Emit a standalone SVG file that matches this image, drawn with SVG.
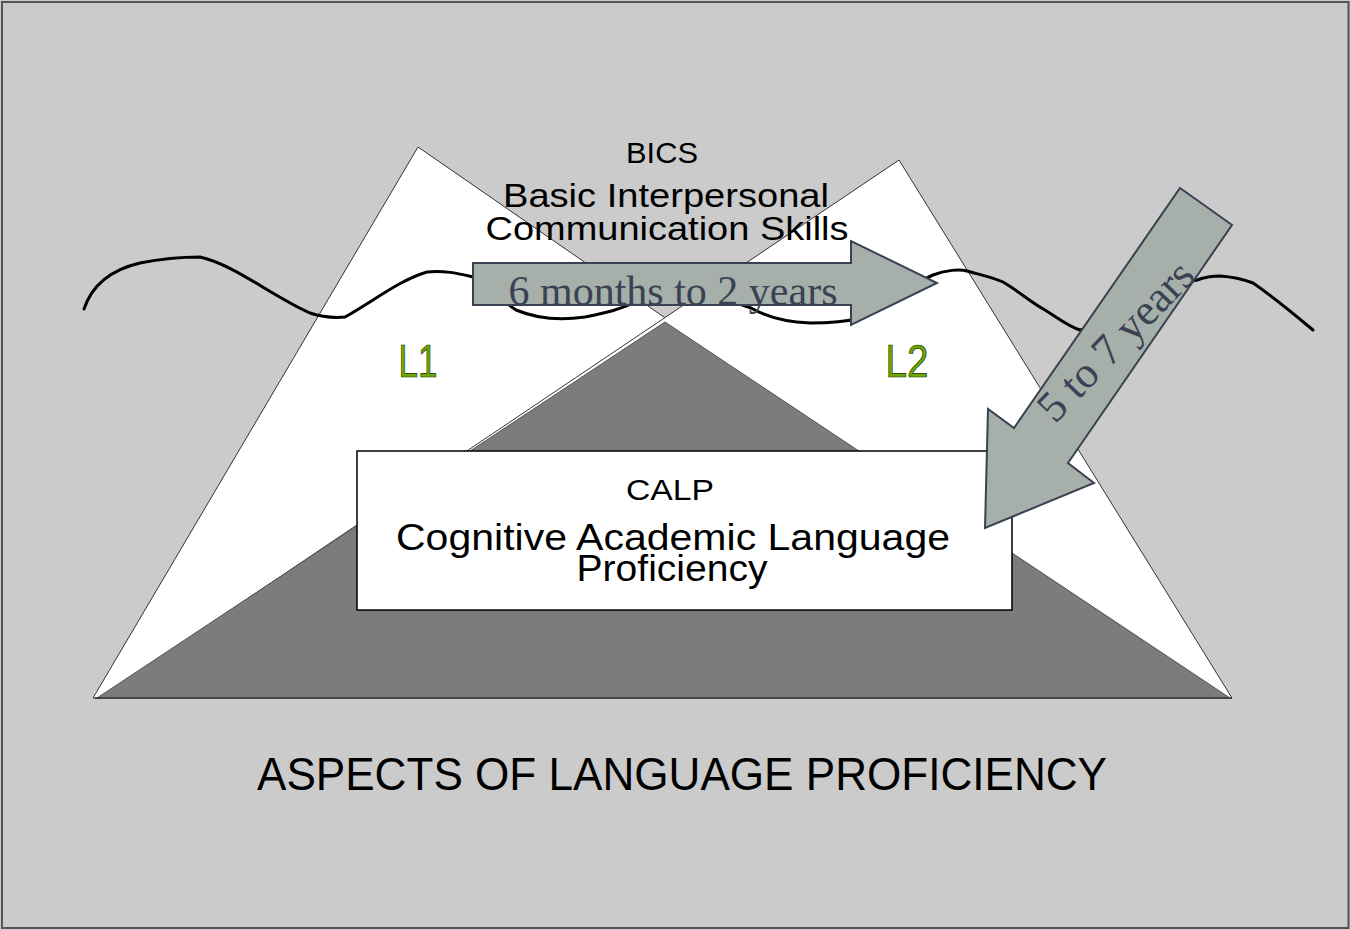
<svg xmlns="http://www.w3.org/2000/svg" width="1350" height="930" viewBox="0 0 1350 930">
<style>
.tri{fill:#ffffff;stroke:#333333;stroke-width:1}
.lbl{font-family:"Liberation Sans",Arial,sans-serif;fill:#000000;text-anchor:middle}
.lang{font-family:"Liberation Sans",Arial,sans-serif;font-size:46px;fill:#6aaa00;stroke:#1e2a00;stroke-width:0.7;text-anchor:middle}
.arrow{fill:#a6afa9;stroke:#3a4152;stroke-width:2;stroke-linejoin:miter}
.atxt{font-family:"Liberation Serif","Times New Roman",serif;fill:#3a4152;text-anchor:middle}
</style>
<rect x="0" y="0" width="1350" height="930" fill="#cbcbcb"/>
<rect x="2" y="2" width="1346.5" height="926" fill="none" stroke="#555555" stroke-width="2"/>

<g id="l1-triangle">
<polygon class="tri" points="418,147 93,698 1215,698"/>
</g>
<g id="l2-triangle">
<polygon class="tri" points="899,160 1232,698 100,698"/>
</g>
<g id="calp-triangle">
<polygon points="665,322 97,698 1230,698" fill="#7c7c7c" stroke="#555555" stroke-width="1"/>
<line x1="95" y1="698" x2="1232" y2="698" stroke="#444444" stroke-width="2"/>
</g>

<g id="waterline">
<path d="M84,309 C92,285 110,270 140,263 C165,258 185,257 200,257 C235,265 270,295 310,313 C325,318 335,318 345,317 C375,300 400,280 427,272 C445,270 460,274 473,277 C490,285 500,300 516,310 C540,320 565,320 585,317 C605,313 620,310 640,300 C660,285 700,290 751,308 C765,316 785,322 810,323 C830,323 845,322 860,318 C890,305 910,285 933,275 C945,270 960,269 967,271 C985,276 995,278 1003,282 C1020,292 1030,302 1045,310 C1058,318 1068,326 1080,330 C1120,320 1160,285 1197,280 C1205,277 1213,276 1220,276 C1235,277 1245,280 1253,283 C1275,298 1295,315 1313,330" fill="none" stroke="#000000" stroke-width="3" stroke-linecap="round" stroke-linejoin="round"/>
</g>

<g id="bics">
<text class="lbl" x="662" y="163" font-size="30" textLength="72" lengthAdjust="spacingAndGlyphs">BICS</text>
<text class="lbl" x="666" y="207" font-size="34" textLength="326" lengthAdjust="spacingAndGlyphs">Basic Interpersonal</text>
<text class="lbl" x="667" y="240" font-size="34" textLength="363" lengthAdjust="spacingAndGlyphs">Communication Skills</text>
</g>

<g id="l1">
<text class="lang" x="418" y="377" textLength="39" lengthAdjust="spacingAndGlyphs">L1</text>
</g>
<g id="l2">
<text class="lang" x="907" y="377" textLength="43" lengthAdjust="spacingAndGlyphs">L2</text>
</g>

<g id="calp">
<rect x="357" y="451" width="655" height="159" fill="#ffffff" stroke="#000000" stroke-width="1.5"/>
<text class="lbl" x="670" y="500" font-size="30" textLength="88" lengthAdjust="spacingAndGlyphs">CALP</text>
<text class="lbl" x="673" y="550" font-size="36" textLength="554" lengthAdjust="spacingAndGlyphs">Cognitive Academic Language</text>
<text class="lbl" x="672" y="581" font-size="36" textLength="191" lengthAdjust="spacingAndGlyphs">Proficiency</text>
</g>

<g id="connectors">
<g id="arrow-bics">
<polygon class="arrow" points="473,263 851,263 851,241 937,283 851,325 851,305 473,305"/>
<text class="atxt" x="673" y="305" font-size="42">6 months to 2 years</text>
</g>
<g id="arrow-calp">
<polygon class="arrow" points="1180,188 1232,225 1068,463 1094,483 985,528 988,409 1014,428"/>
<text class="atxt" x="0" y="0" font-size="44" transform="translate(1126,351) rotate(-46)">5 to 7 years</text>
</g>
</g>

<g id="title">
<text class="lbl" x="682" y="790" font-size="46" textLength="850" lengthAdjust="spacingAndGlyphs">ASPECTS OF LANGUAGE PROFICIENCY</text>
</g>
</svg>
